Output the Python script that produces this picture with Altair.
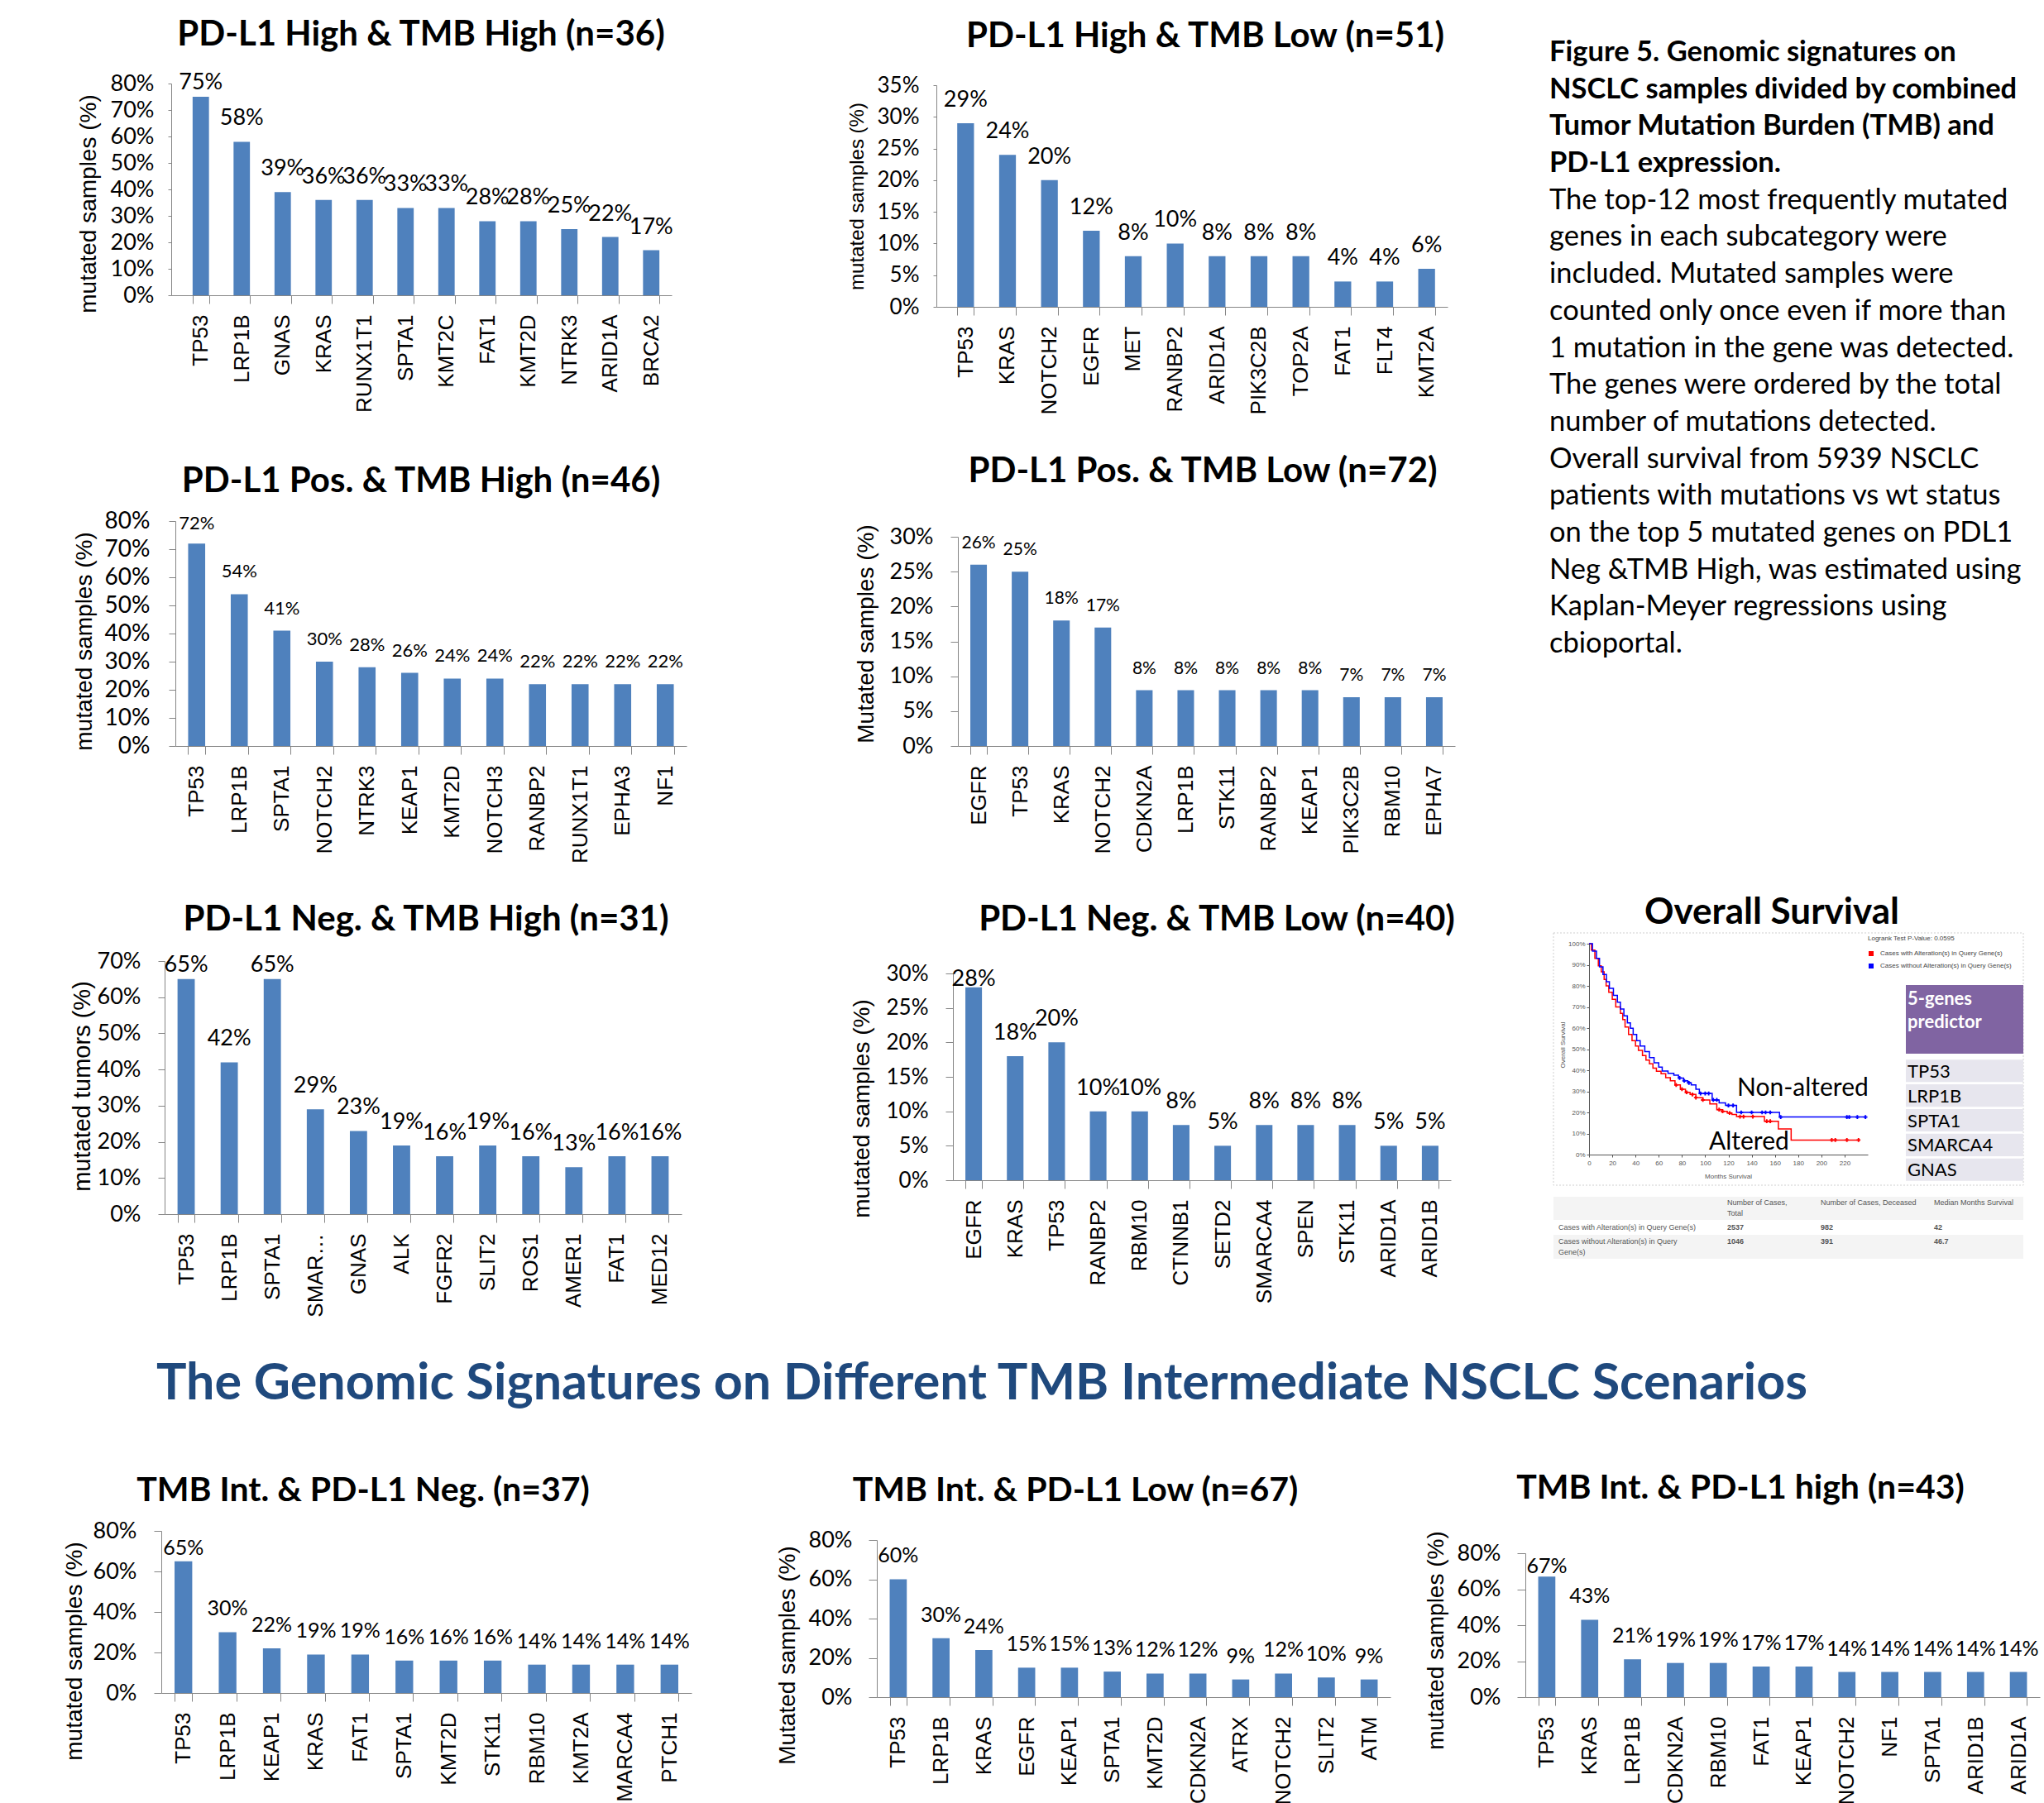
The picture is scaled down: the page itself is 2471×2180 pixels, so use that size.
import altair as alt
import pandas as pd

W, H = 2471, 2180
BAR_BLUE = "#4F81BD"
AXIS_GREY = "#868686"
ARIAL = "Liberation Sans"
CALIBRI = "Lato"

# ---------------- gene panels: % of mutated samples ----------------
hh_genes = ["TP53", "LRP1B", "GNAS", "KRAS", "RUNX1T1", "SPTA1", "KMT2C", "FAT1", "KMT2D", "NTRK3", "ARID1A", "BRCA2"]
hh_pct = [75, 58, 39, 36, 36, 33, 33, 28, 28, 25, 22, 17]

hl_genes = ["TP53", "KRAS", "NOTCH2", "EGFR", "MET", "RANBP2", "ARID1A", "PIK3C2B", "TOP2A", "FAT1", "FLT4", "KMT2A"]
hl_pct = [29, 24, 20, 12, 8, 10, 8, 8, 8, 4, 4, 6]

ph_genes = ["TP53", "LRP1B", "SPTA1", "NOTCH2", "NTRK3", "KEAP1", "KMT2D", "NOTCH3", "RANBP2", "RUNX1T1", "EPHA3", "NF1"]
ph_pct = [72, 54, 41, 30, 28, 26, 24, 24, 22, 22, 22, 22]

pl_genes = ["EGFR", "TP53", "KRAS", "NOTCH2", "CDKN2A", "LRP1B", "STK11", "RANBP2", "KEAP1", "PIK3C2B", "RBM10", "EPHA7"]
pl_pct = [26, 25, 18, 17, 8, 8, 8, 8, 8, 7, 7, 7]

nh_genes = ["TP53", "LRP1B", "SPTA1", "SMAR\u2026", "GNAS", "ALK", "FGFR2", "SLIT2", "ROS1", "AMER1", "FAT1", "MED12"]
nh_pct = [65, 42, 65, 29, 23, 19, 16, 19, 16, 13, 16, 16]

nl_genes = ["EGFR", "KRAS", "TP53", "RANBP2", "RBM10", "CTNNB1", "SETD2", "SMARCA4", "SPEN", "STK11", "ARID1A", "ARID1B"]
nl_pct = [28, 18, 20, 10, 10, 8, 5, 8, 8, 8, 5, 5]

in_genes = ["TP53", "LRP1B", "KEAP1", "KRAS", "FAT1", "SPTA1", "KMT2D", "STK11", "RBM10", "KMT2A", "SMARCA4", "PTCH1"]
in_pct = [65, 30, 22, 19, 19, 16, 16, 16, 14, 14, 14, 14]

il_genes = ["TP53", "LRP1B", "KRAS", "EGFR", "KEAP1", "SPTA1", "KMT2D", "CDKN2A", "ATRX", "NOTCH2", "SLIT2", "ATM"]
il_pct = [60, 30, 24, 15, 15, 13, 12, 12, 9, 12, 10, 9]

ih_genes = ["TP53", "KRAS", "LRP1B", "CDKN2A", "RBM10", "FAT1", "KEAP1", "NOTCH2", "NF1", "SPTA1", "ARID1B", "ARID1A"]
ih_pct = [67, 43, 21, 19, 19, 17, 17, 14, 14, 14, 14, 14]

# ---------------- Kaplan-Meier overall survival ----------------
ALTERED = "Cases with Alteration(s) in Query Gene(s)"
WILDTYPE = "Cases without Alteration(s) in Query Gene(s)"

km_alt_months = [0, 2, 5, 8, 10.5, 13, 14.7, 17, 20, 23, 27, 29, 31, 34, 37, 40, 42.5, 46, 49, 52, 55, 58,
                 62, 66, 70, 74, 78.6, 83, 87, 92, 98, 104, 110, 115, 119, 123, 127, 149, 151, 162, 163, 173, 174, 233]
km_alt_surv = [100, 97, 93, 89.5, 86.7, 83, 80, 77, 73.6, 70, 67, 64, 60.5, 57, 54, 51.5, 49.4, 47, 44.8, 43, 41, 39.5,
               38.3, 36.5, 35, 33, 31, 29.5, 28.5, 27, 25.9, 24, 21.3, 20.5, 19.7, 19, 18, 18, 15.8, 15.8, 12.2, 12.2, 6.9, 6.9]
km_wt_months = [0, 3, 6.4, 9, 12, 15, 17.5, 21, 24.4, 27, 30, 33, 35.6, 38, 41, 44, 48, 52, 56, 60, 63, 68,
                73, 77, 81.4, 85, 88, 92, 95, 105, 106, 112, 117.5, 126, 127, 163, 164, 238]
km_wt_surv = [100, 96.5, 93, 89, 85.4, 82, 78.8, 75.5, 72.3, 69, 65.8, 62.5, 59.9, 57, 54, 51.5, 48.8, 46, 43.5, 41.5, 39.6, 38.5,
              37.6, 36.3, 35, 34, 33, 31, 29, 29, 25.9, 24.5, 23.3, 23.3, 20, 20, 17.8, 17.8]

cens_alt_months = [75, 80, 84, 89, 92, 98, 112, 115, 121, 130, 133, 141, 153, 156, 209, 212, 222, 232]
cens_alt_surv = [33, 31, 29.5, 28.5, 27, 25.9, 21.3, 20.5, 19.7, 18, 18, 18, 15.8, 15.8, 6.9, 6.9, 6.9, 6.9]
cens_wt_months = [78, 82, 86, 96, 100, 103, 107, 110, 120, 124, 131, 140, 149, 152, 156, 165, 222, 224, 231, 238]
cens_wt_surv = [36.3, 35, 34, 29, 29, 29, 25.9, 25.9, 23.3, 23.3, 20, 20, 20, 20, 20, 17.8, 17.8, 17.8, 17.8, 17.8]

predictor_genes = ["TP53", "LRP1B", "SPTA1", "SMARCA4", "GNAS"]
predictor_head = ["5-genes", "predictor"]

table_head = ["Number of Cases,\nTotal", "Number of Cases, Deceased", "Median Months Survival"]
table_rows = [ALTERED, "Cases without Alteration(s) in Query\nGene(s)"]
table_total = ["2537", "1046"]
table_deceased = ["982", "391"]
table_median = ["42", "46.7"]

note_lines = [
    "Figure 5. Genomic signatures on",
    "NSCLC samples divided by combined",
    "Tumor Mutation Burden (TMB) and",
    "PD-L1 expression.",
    "The top-12 most frequently mutated",
    "genes in each subcategory were",
    "included. Mutated samples were",
    "counted only once even if more than",
    "1 mutation in the gene was detected.",
    "The genes were ordered by the total",
    "number of mutations detected.",
    "Overall survival from  5939 NSCLC",
    "patients with mutations vs wt status",
    "on the top 5 mutated genes on PDL1",
    "Neg &TMB High, was estimated using",
    "Kaplan-Meyer regressions using",
    "cbioportal.",
]


def one_text(s):
    return pd.DataFrame({"t": [s]})


def free_text(s, x, y, size, weight="normal", color="black", font=CALIBRI, align="left", line_height=None):
    return alt.Chart(one_text(s)).mark_text(
        font=font, fontSize=size, fontWeight=weight, color=color, align=align,
        baseline="alphabetic", lineBreak="\n", lineHeight=line_height or size * 1.45
    ).encode(x=alt.value(x), y=alt.value(y), text="t:N")


def box(x, x2, y, y2, color):
    return alt.Chart(one_text("")).mark_rect(color=color).encode(
        x=alt.value(x), x2=alt.value(x2), y=alt.value(y), y2=alt.value(y2))


def band_scale(genes, ax, c0, c1, inner=0.6):
    """Band scale whose axis line starts at the y-axis (ax) while the category slots fill [c0, c1]."""
    n = len(genes)
    step = (c1 - c0) / n
    span = c1 - ax
    outer = (span / step - n + inner) / 2
    spare = span - step * (n - inner)
    align = (c0 + step * inner / 2 - ax) / spare
    return alt.Scale(domain=genes, range=[ax, c1], paddingInner=inner,
                     paddingOuter=round(outer, 5), align=round(align, 5))


def bar_panel(title, genes, pct, ymax, step, ytitle, g):
    df = pd.DataFrame({"gene": genes, "pct": pct})
    ppu = (g["y0"] - g["y1"]) / ymax
    xs = band_scale(genes, g["ax"], g["c0"], g["c1"])
    ys = alt.Scale(domain=[0, ymax], range=[g["y0"], g["y1"]], nice=False)
    x_axis = alt.Axis(
        title="", orient="bottom", offset=g["y0"] - H, tickBand="extent",
        labelAngle=270, labelFont=ARIAL, labelFontSize=26, labelColor="black",
        labelPadding=13, tickSize=10, tickColor=AXIS_GREY, domainColor=AXIS_GREY,
        labelOverlap=False, labelLimit=400, grid=False)
    y_axis = alt.Axis(
        title=ytitle, orient="left", offset=-g["ax"],
        values=list(range(0, ymax + 1, step)), labelExpr="datum.value + '%'",
        labelFont=CALIBRI, labelFontSize=g["tf"], labelColor="black",
        labelPadding=g["lp"], tickSize=g["ts"], tickColor=AXIS_GREY,
        domainColor=AXIS_GREY, grid=False,
        titleFont=ARIAL, titleFontSize=g["ytf"], titleFontWeight="normal",
        titleColor="black", titleAngle=270, titleAlign="center",
        titleBaseline="middle", titleX=g["ytx"] - g["ax"], titleY=g["yty"])
    base = alt.Chart(df)
    bars = base.mark_bar(color=BAR_BLUE).encode(
        x=alt.X("gene:N", sort=genes, scale=xs, axis=x_axis),
        y=alt.Y("pct:Q", scale=ys, axis=y_axis),
    )
    # value labels sit 20px above the bar, but never higher than the clamp line near the top
    labels = base.transform_calculate(
        label_y=f"min(datum.pct + {20 / ppu:.4f}, {ymax - g['clamp'] / ppu:.4f})",
        label="datum.pct + '%'",
    ).mark_text(font=CALIBRI, fontSize=g["vf"], baseline="alphabetic", color="black").encode(
        x=alt.X("gene:N", sort=genes, scale=xs, axis=x_axis),
        y=alt.Y("label_y:Q", scale=ys, axis=y_axis),
        text="label:N",
    )
    heading = free_text(title, g["tx"], g["ty"], g["hf"], weight="bold", align="center")
    return alt.layer(bars, labels, heading)


def geo(ax, c0, c1, y0, y1, tx, ty, ytx, yty, ytf=28, tf=27, vf=27, ts=9, lp=21, clamp=-200, hf=42):
    return dict(ax=ax, c0=c0, c1=c1, y0=y0, y1=y1, tx=tx, ty=ty, ytx=ytx, yty=yty,
                ytf=ytf, tf=tf, vf=vf, ts=ts, lp=lp, clamp=clamp, hf=hf)


panels = [
    bar_panel("PD-L1 High & TMB High (n=36)", hh_genes, hh_pct, 80, 10, "mutated samples (%)",
              geo(207, 218, 812, 357, 101, 509, 55, 107, 246, ts=4, lp=17, clamp=7)),
    bar_panel("PD-L1 High & TMB Low (n=51)", hl_genes, hl_pct, 35, 5, "mutated samples (%)",
              geo(1132, 1142, 1750, 371, 103, 1457, 57, 1036, 237, ytf=24, tf=26, ts=4, lp=17)),
    bar_panel("PD-L1 Pos. & TMB High (n=46)", ph_genes, ph_pct, 80, 10, "mutated samples (%)",
              geo(212, 212, 830, 902, 630, 509, 595, 102, 775, tf=28, vf=22, ts=8, lp=23, clamp=10)),
    bar_panel("PD-L1 Pos. & TMB Low (n=72)", pl_genes, pl_pct, 30, 5, "Mutated samples (%)",
              geo(1158, 1158, 1759, 902, 649, 1454, 583, 1047, 766, vf=21)),
    bar_panel("PD-L1 Neg. & TMB High  (n=31)", nh_genes, nh_pct, 70, 10, "mutated tumors (%)",
              geo(199, 199, 824, 1468, 1162, 515, 1125, 99, 1313, ytf=29, ts=8, clamp=13)),
    bar_panel("PD-L1 Neg. & TMB Low (n=40)", nl_genes, nl_pct, 30, 5, "mutated  samples (%)",
              geo(1152, 1152, 1754, 1427, 1177, 1471, 1125, 1042, 1340, tf=26, clamp=15)),
    bar_panel("TMB Int. & PD-L1 Neg. (n=37)", in_genes, in_pct, 80, 20, "mutated samples (%)",
              geo(195, 195, 836, 2047, 1851, 439, 1815, 90, 1996, vf=25, clamp=29, hf=41)),
    bar_panel("TMB Int. & PD-L1 Low (n=67)", il_genes, il_pct, 80, 20, "Mutated samples (%)",
              geo(1060, 1060, 1681, 2052, 1862, 1300, 1815, 952, 2001, vf=25, ts=10, lp=20, hf=41)),
    bar_panel("TMB Int. & PD-L1 high (n=43)", ih_genes, ih_pct, 80, 20, "mutated samples (%)",
              geo(1844, 1844, 2466, 2052, 1878, 2104, 1812, 1736, 1983, vf=25, ts=10, lp=20, clamp=24, hf=41)),
]

# ---------------- figure legend text ----------------
note_df = pd.DataFrame({"line_no": list(range(len(note_lines))), "line": note_lines})
note_y = alt.Scale(domain=[0, len(note_lines) - 1], range=[74, 789])
note_base = alt.Chart(note_df)
note = alt.layer(
    note_base.transform_filter("datum.line_no < 4").mark_text(
        font=CALIBRI, fontSize=34.5, fontWeight="bold", align="left", baseline="alphabetic", color="black"
    ).encode(x=alt.value(1873), y=alt.Y("line_no:Q", scale=note_y, axis=None), text="line:N"),
    note_base.transform_filter("datum.line_no >= 4").mark_text(
        font=CALIBRI, fontSize=34.5, align="left", baseline="alphabetic", color="black"
    ).encode(x=alt.value(1873), y=alt.Y("line_no:Q", scale=note_y, axis=None), text="line:N"),
)

# ---------------- survival curves ----------------
km_x = alt.Scale(domain=[0, 240], range=[1921, 2258], nice=False)
km_y = alt.Scale(domain=[0, 100], range=[1396, 1141], nice=False)
KM_GREY = "#555555"
km_xaxis = alt.Axis(
    title="Months Survival", orient="bottom", offset=1396 - H, values=list(range(0, 221, 20)),
    labelFont=ARIAL, labelFontSize=8, labelColor=KM_GREY, labelFlush=False, labelPadding=3,
    tickSize=3, tickColor=KM_GREY, domainColor=KM_GREY, grid=False,
    titleFont=ARIAL, titleFontSize=8, titleFontWeight="normal", titleColor=KM_GREY,
    titleX=2089, titleY=26, titleAlign="center", titleBaseline="middle")
km_yaxis = alt.Axis(
    title="Overall Survival", orient="left", offset=-1921, values=list(range(0, 101, 10)),
    labelExpr="datum.value + '%'", labelFont=ARIAL, labelFontSize=8, labelColor=KM_GREY,
    labelPadding=2, tickSize=3, tickColor=KM_GREY, domainColor=KM_GREY, grid=False,
    titleFont=ARIAL, titleFontSize=8, titleFontWeight="normal", titleColor=KM_GREY,
    titleAngle=270, titleX=-32, titleY=1263, titleAlign="center", titleBaseline="middle")

alt_curve = pd.DataFrame({"month": km_alt_months, "surv": km_alt_surv})
wt_curve = pd.DataFrame({"month": km_wt_months, "surv": km_wt_surv})
cens_df = pd.DataFrame({
    "group": [ALTERED] * len(cens_alt_months) + [WILDTYPE] * len(cens_wt_months),
    "month": cens_alt_months + cens_wt_months,
    "surv": cens_alt_surv + cens_wt_surv,
})

km_enc = dict(x=alt.X("month:Q", scale=km_x, axis=km_xaxis), y=alt.Y("surv:Q", scale=km_y, axis=km_yaxis))
km = alt.layer(
    alt.Chart(alt_curve).mark_line(interpolate="step-after", color="#FF0000", strokeWidth=1.5).encode(**km_enc),
    alt.Chart(wt_curve).mark_line(interpolate="step-after", color="#0000FF", strokeWidth=1.5).encode(**km_enc),
    alt.Chart(cens_df).mark_point(shape="cross", filled=True, size=22, opacity=1).encode(
        **km_enc,
        color=alt.Color("group:N", scale=alt.Scale(domain=[ALTERED, WILDTYPE], range=["#FF0000", "#0000FF"]),
                        legend=alt.Legend(
                            title="Logrank Test P-Value: 0.0595", orient="none", legendX=2258, legendY=1131,
                            symbolType="square", symbolSize=36, symbolStrokeWidth=0,
                            titleFont=ARIAL, titleFontSize=8, titleFontWeight="normal", titleColor="#444444",
                            labelFont=ARIAL, labelFontSize=8, labelColor="#444444",
                            titlePadding=10, rowPadding=7, labelOffset=7, padding=0)),
    ),
)

km_frame = alt.Chart(one_text("")).mark_rect(
    filled=False, stroke="#CFCFCF", strokeDash=[2, 2], strokeWidth=1
).encode(x=alt.value(1878), x2=alt.value(2446), y=alt.value(1128), y2=alt.value(1433))

# 5-gene predictor box
pg_df = pd.DataFrame({"gene": predictor_genes})
pg_y = alt.Scale(domain=predictor_genes, range=[1280, 1429], paddingInner=0.09, paddingOuter=0.04)
predictor_rows = alt.layer(
    alt.Chart(pg_df).mark_rect(color="#E7E6EE").encode(
        y=alt.Y("gene:N", sort=predictor_genes, scale=pg_y, axis=None),
        x=alt.value(2304), x2=alt.value(2446)),
    alt.Chart(pg_df).mark_text(font=CALIBRI, fontSize=22, align="left", baseline="middle", color="black", dy=1).encode(
        y=alt.Y("gene:N", sort=predictor_genes, scale=pg_y, axis=None),
        x=alt.value(2306), text="gene:N"),
)
ph_df = pd.DataFrame({"k": [0, 1], "word": predictor_head})
predictor_title = alt.Chart(ph_df).mark_text(
    font=CALIBRI, fontSize=22, fontWeight="bold", align="left", baseline="alphabetic", color="white"
).encode(x=alt.value(2306), y=alt.Y("k:Q", scale=alt.Scale(domain=[0, 1], range=[1215, 1243]), axis=None),
         text="word:N")

# survival table
TBL = "#555555"
tbl_df = pd.DataFrame({"row": [0, 1], "label": table_rows, "total": table_total,
                       "deceased": table_deceased, "median": table_median})
tbl_y = alt.Scale(domain=[0, 1], range=[1487, 1504])


def tbl_col(field, x, weight):
    return alt.Chart(tbl_df).mark_text(
        font=ARIAL, fontSize=9, fontWeight=weight, color=TBL, align="left", baseline="alphabetic",
        lineBreak="\n", lineHeight=13
    ).encode(x=alt.value(x), y=alt.Y("row:Q", scale=tbl_y, axis=None), text=f"{field}:N")


table = alt.layer(
    tbl_col("label", 1884, "normal"),
    tbl_col("total", 2088, "bold"),
    tbl_col("deceased", 2201, "bold"),
    tbl_col("median", 2338, "bold"),
)

layers = panels + [
    note,
    free_text("The Genomic Signatures on Different TMB Intermediate NSCLC Scenarios", 1187, 1692, 61,
              weight="bold", color="#1F497D", align="center"),
    free_text("Overall Survival", 2142, 1117, 44, weight="bold", align="center"),
    km_frame,
    km,
    free_text("Non-altered", 2100, 1325, 30),
    free_text("Altered", 2066, 1390, 30),
    box(2304, 2446, 1191, 1274, "#8064A2"),
    predictor_title,
    predictor_rows,
    box(1878, 2446, 1447, 1475, "#F4F4F4"),
    box(1878, 2446, 1493, 1522, "#F4F4F4"),
    table,
    free_text(table_head[0], 2088, 1457, 9, color=TBL, font=ARIAL, line_height=13),
    free_text(table_head[1], 2201, 1457, 9, color=TBL, font=ARIAL),
    free_text(table_head[2], 2338, 1457, 9, color=TBL, font=ARIAL),
]

chart = alt.layer(*layers).resolve_scale(
    x="independent", y="independent"
).properties(
    width=W, height=H, padding=0, background="white",
    autosize=alt.AutoSizeParams(type="none"),
).configure_view(strokeWidth=0)

chart.save("out.html", embed_options={"renderer": "svg", "actions": False})
